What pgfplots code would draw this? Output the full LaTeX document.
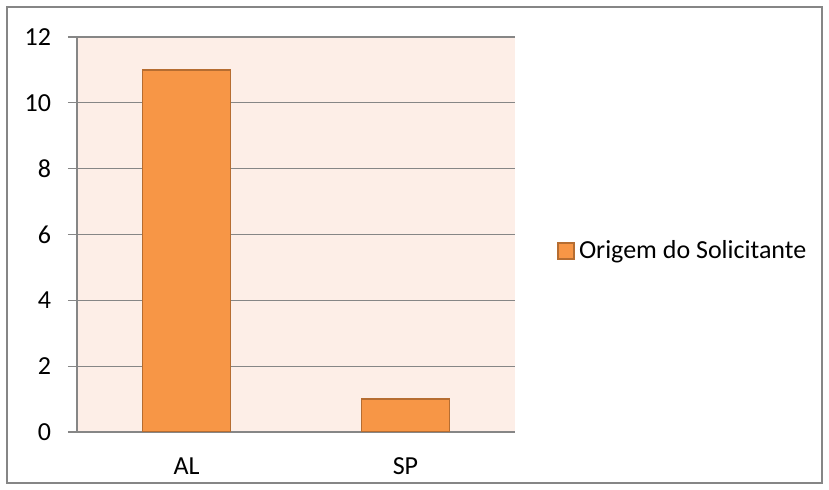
\documentclass[border=0pt]{standalone}
\usepackage{pgfplots}
\pgfplotsset{compat=1.18}
\usepackage{fontspec}
\setmainfont{Carlito}
\definecolor{barfill}{HTML}{F79646}
\definecolor{baredge}{HTML}{B66D31}
\definecolor{plotbg}{HTML}{FDEEE7}
\definecolor{gridc}{HTML}{868686}
\begin{document}
\fontsize{13}{15.5}\selectfont
\begin{tikzpicture}
\path[use as bounding box] (0pt,0pt) rectangle (414.5pt,-245pt);
\draw[gridc, line width=0.6pt] (3.5pt,-3.5pt) rectangle (411pt,-241.5pt);
\begin{axis}[
  at={(38.5pt,-18.5pt)}, anchor=north west,
  scale only axis, width=219pt, height=197.5pt,
  xmin=-0.5, xmax=1.5, ymin=0, ymax=12,
  ytick={0,2,...,12},
  xtick={0,1}, xticklabels={AL,SP},
  minor xtick={-0.5,0.5,1.5},
  axis x line=bottom, axis y line=left,
  axis line style={gridc, line width=0.6pt, -},
  axis background/.style={fill=plotbg},
  ymajorgrids,
  major grid style={gridc, line width=0.6pt},
  tick align=outside,
  major tick length=4.5pt,
  minor tick length=3.5pt,
  every tick/.style={gridc, line width=0.6pt},
  x tick style={draw=none},
  minor x tick style={gridc, line width=0.6pt},
  /pgf/number format/assume math mode=true,
  ticklabel style={font=\fontsize{13}{15.5}\selectfont},
  yticklabel style={xshift=-4pt},
  xticklabel style={yshift=-4pt},
  ybar, bar width=44pt,
  legend style={draw=none, fill=none, inner sep=0pt, at={(1.0959,0.458)}, anchor=west,
    font=\fontsize{13}{15.5}\selectfont},
  legend image code/.code={\draw[#1] (0pt,-4pt) rectangle (8pt,4pt);},
]
\addplot[fill=barfill, draw=baredge, line width=0.8pt] coordinates {(0,11) (1,1)};
\addlegendentry{Origem do Solicitante}
\end{axis}
\end{tikzpicture}
\end{document}
